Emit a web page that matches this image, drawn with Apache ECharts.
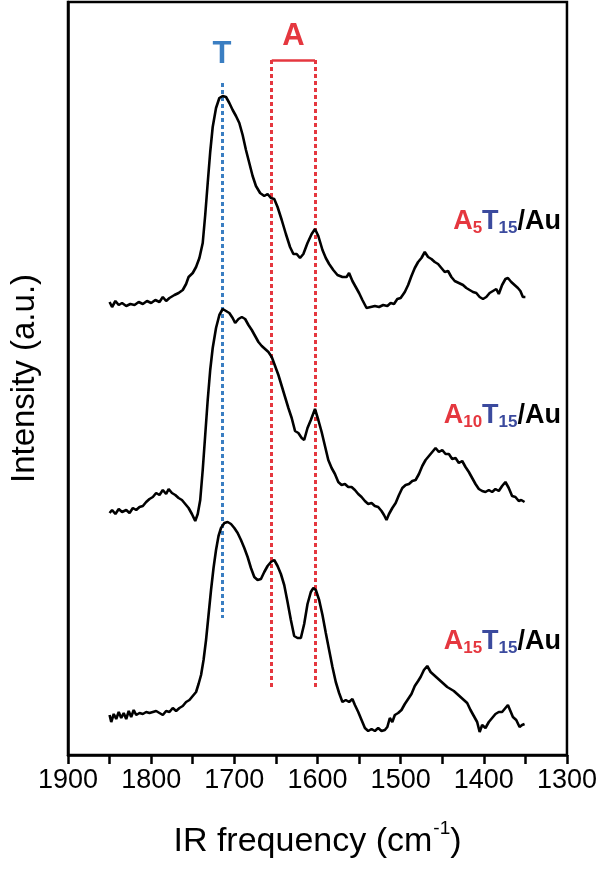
<!DOCTYPE html>
<html><head><meta charset="utf-8">
<script src="https://cdn.jsdelivr.net/npm/echarts@6/dist/echarts.min.js"></script>
<style>html,body{margin:0;padding:0;background:#fff}#c{width:600px;height:875px}</style>
</head><body><div id="c"></div>
<script>
// IR frequency (cm-1) and intensity (a.u.)
const freqA5 = [1850,1847,1843,1839,1835,1830,1825,1820,1815,1810,1805,1800,1795,1790,1786,1782,1778,1772,1767,1762,1758,1755,1750,1746,1742,1738,1735,1732,1729,1726,1722,1718,1714,1710,1706,1702,1698,1694,1690,1686,1682,1678,1674,1669,1664,1660,1656,1652,1648,1643,1638,1633,1629,1625,1621,1617,1612,1607,1603,1599,1594,1590,1586,1581,1576,1570,1565,1562,1558,1554,1550,1546,1541,1536,1531,1526,1521,1516,1512,1508,1504,1500,1495,1491,1487,1483,1479,1475,1471,1467,1463,1459,1455,1451,1447,1443,1439,1435,1430,1425,1421,1417,1413,1409,1405,1401,1397,1393,1389,1385,1382,1378,1374,1371,1367,1363,1359,1356,1353,1350];
const intA5 = [4.53,4.48,4.54,4.50,4.52,4.49,4.51,4.50,4.53,4.51,4.54,4.52,4.55,4.53,4.58,4.54,4.57,4.60,4.62,4.65,4.71,4.78,4.82,4.88,4.97,5.12,5.40,5.72,6.03,6.28,6.47,6.57,6.59,6.58,6.52,6.45,6.39,6.32,6.20,6.05,5.92,5.79,5.69,5.62,5.59,5.61,5.57,5.56,5.48,5.35,5.21,5.08,5.01,5.01,4.97,5.01,5.12,5.21,5.26,5.19,5.05,4.97,4.91,4.85,4.80,4.78,4.78,4.82,4.74,4.68,4.62,4.55,4.47,4.48,4.49,4.48,4.50,4.49,4.52,4.51,4.56,4.57,4.63,4.70,4.79,4.87,4.93,4.97,5.03,4.98,4.96,4.93,4.91,4.87,4.83,4.84,4.78,4.74,4.72,4.70,4.67,4.65,4.63,4.62,4.58,4.56,4.58,4.62,4.64,4.66,4.61,4.70,4.76,4.77,4.73,4.70,4.67,4.64,4.58,4.58];

const freqA10 = [1850,1847,1843,1839,1835,1830,1826,1822,1818,1814,1810,1806,1802,1798,1794,1790,1786,1782,1779,1775,1771,1767,1763,1759,1755,1751,1747,1744,1741,1738,1735,1732,1729,1726,1722,1718,1714,1710,1706,1702,1699,1695,1691,1687,1683,1679,1675,1671,1667,1663,1659,1655,1651,1647,1643,1639,1635,1631,1627,1623,1619,1616,1612,1608,1603,1599,1595,1591,1587,1583,1579,1575,1571,1567,1563,1559,1555,1551,1547,1543,1539,1535,1531,1527,1523,1520,1517,1514,1510,1506,1502,1498,1494,1490,1486,1482,1478,1474,1470,1466,1462,1458,1454,1450,1446,1442,1438,1434,1430,1426,1422,1418,1414,1410,1406,1402,1398,1394,1390,1386,1382,1378,1374,1370,1366,1362,1358,1355,1351];
const intA10 = [2.42,2.45,2.41,2.46,2.43,2.45,2.42,2.47,2.45,2.48,2.49,2.53,2.56,2.58,2.62,2.60,2.65,2.61,2.66,2.62,2.60,2.57,2.55,2.51,2.47,2.41,2.34,2.41,2.55,2.85,3.20,3.55,3.85,4.07,4.27,4.40,4.46,4.44,4.42,4.37,4.32,4.36,4.38,4.36,4.30,4.25,4.19,4.13,4.09,4.06,4.03,3.98,3.89,3.80,3.69,3.58,3.47,3.37,3.24,3.22,3.17,3.15,3.27,3.35,3.46,3.35,3.23,3.09,2.95,2.87,2.81,2.73,2.70,2.71,2.68,2.68,2.65,2.61,2.58,2.54,2.51,2.52,2.49,2.48,2.44,2.40,2.35,2.41,2.47,2.52,2.60,2.67,2.70,2.71,2.74,2.75,2.81,2.89,2.95,2.99,3.03,3.07,3.03,3.05,3.01,3.01,2.96,2.97,2.92,2.94,2.88,2.83,2.77,2.71,2.66,2.64,2.63,2.65,2.63,2.66,2.64,2.69,2.73,2.67,2.59,2.58,2.54,2.55,2.53];

const freqA15 = [1850,1848,1845,1842,1839,1836,1833,1830,1827,1824,1821,1818,1814,1810,1806,1802,1798,1794,1790,1786,1782,1778,1774,1770,1766,1762,1758,1754,1750,1746,1743,1740,1737,1734,1731,1728,1725,1722,1719,1716,1712,1708,1704,1700,1696,1692,1688,1684,1680,1676,1672,1668,1664,1660,1656,1652,1648,1644,1640,1636,1632,1628,1624,1620,1616,1612,1608,1605,1602,1598,1594,1590,1586,1582,1578,1574,1570,1566,1562,1558,1555,1551,1547,1543,1539,1535,1531,1527,1523,1519,1516,1513,1510,1507,1503,1499,1495,1491,1487,1483,1479,1476,1472,1468,1464,1460,1456,1452,1448,1444,1440,1436,1432,1428,1424,1420,1416,1412,1408,1405,1402,1398,1394,1390,1386,1382,1378,1374,1371,1368,1365,1361,1357,1354,1351];
const intA15 = [0.40,0.33,0.41,0.36,0.43,0.37,0.42,0.36,0.44,0.38,0.45,0.40,0.42,0.41,0.43,0.42,0.43,0.44,0.42,0.40,0.44,0.43,0.47,0.44,0.47,0.49,0.53,0.55,0.59,0.63,0.71,0.80,0.95,1.15,1.40,1.65,1.87,2.05,2.19,2.27,2.32,2.33,2.31,2.27,2.22,2.15,2.07,1.98,1.87,1.78,1.75,1.76,1.83,1.89,1.93,1.95,1.89,1.81,1.70,1.53,1.35,1.19,1.17,1.17,1.31,1.51,1.63,1.67,1.65,1.55,1.40,1.22,1.05,0.88,0.73,0.62,0.53,0.55,0.53,0.56,0.50,0.43,0.35,0.27,0.24,0.26,0.24,0.27,0.24,0.25,0.28,0.37,0.33,0.40,0.42,0.45,0.51,0.56,0.61,0.69,0.74,0.78,0.85,0.89,0.83,0.80,0.77,0.74,0.71,0.68,0.66,0.64,0.61,0.58,0.55,0.52,0.45,0.39,0.33,0.23,0.30,0.27,0.33,0.37,0.41,0.43,0.43,0.47,0.50,0.44,0.38,0.35,0.28,0.30,0.31];

// band markers (cm-1) and their vertical extent (a.u.)
const bandT = 1715;
const bandsA = [1655, 1603];
const bandTRange = [1.37, 6.72];
const bandARange = [0.68, 6.95];
const xTicks = [1900, 1800, 1700, 1600, 1500, 1400, 1300];

const BLUE = '#3a7ec2', RED = '#e5373f', INDIGO = '#3b4a9e';
const zip = (a, b) => a.map((v, i) => [v, b[i]]);

const chart = echarts.init(document.getElementById('c'));
const labelRich = (sub) => ({
  text: `{a|A}{as|${sub}}{t|T}{ts|15}{k|/Au}`,
  rich: {
    a: {fontSize: 27, fontWeight: 'bold', fill: RED, fontFamily: 'Liberation Sans'},
    as: {fontSize: 17, fontWeight: 'bold', fill: RED, fontFamily: 'Liberation Sans', padding: [14, 0, 0, 0]},
    t: {fontSize: 27, fontWeight: 'bold', fill: INDIGO, fontFamily: 'Liberation Sans'},
    ts: {fontSize: 17, fontWeight: 'bold', fill: INDIGO, fontFamily: 'Liberation Sans', padding: [14, 0, 0, 0]},
    k: {fontSize: 27, fontWeight: 'bold', fill: '#000', fontFamily: 'Liberation Sans'}
  }
});

chart.setOption({
  animation: false,
  backgroundColor: '#fff',
  textStyle: {fontFamily: 'Liberation Sans'},
  grid: {left: 68, right: 33, top: 2, bottom: 120, show: true, borderColor: '#000', borderWidth: 2.5},
  xAxis: {
    type: 'value', min: 1300, max: 1900, inverse: true, interval: 50,
    name: '{a|IR frequency (cm}{s|-1}{a|)}', nameLocation: 'middle', nameGap: 64,
    nameTextStyle: {rich: {
      a: {fontSize: 34, color: '#000', fontFamily: 'Liberation Sans'},
      s: {fontSize: 19, color: '#000', fontFamily: 'Liberation Sans', padding: [0, 0, 26, 1]}
    }},
    axisLine: {lineStyle: {color: '#000', width: 2.5}},
    axisTick: {show: true, length: 9, lineStyle: {color: '#000', width: 2.5}},
    axisLabel: {fontSize: 27, color: '#000', margin: 12,
      formatter: v => xTicks.includes(v) ? String(v) : ''},
    splitLine: {show: false}
  },
  yAxis: {
    type: 'value', min: 0, max: 7.53,
    name: 'Intensity (a.u.)', nameLocation: 'middle', nameGap: 27,
    nameTextStyle: {fontSize: 33, color: '#000'},
    axisLine: {show: true, lineStyle: {color: '#000', width: 2.5}},
    axisTick: {show: false}, axisLabel: {show: false}, splitLine: {show: false}
  },
  series: [
    {type: 'line', name: 'A5T15/Au', data: zip(freqA5, intA5), showSymbol: false, symbol: 'none',
     lineStyle: {color: '#000', width: 2.6}, z: 5},
    {type: 'line', name: 'A10T15/Au', data: zip(freqA10, intA10), showSymbol: false, symbol: 'none',
     lineStyle: {color: '#000', width: 2.6}, z: 5},
    {type: 'line', name: 'A15T15/Au', data: zip(freqA15, intA15), showSymbol: false, symbol: 'none',
     lineStyle: {color: '#000', width: 2.6}, z: 5},
    {type: 'line', data: [], z: 3,
     markLine: {
       silent: true, symbol: 'none', label: {show: false},
       data: [
         [{coord: [bandT, bandTRange[1]], lineStyle: {color: BLUE, type: [4, 3], width: 3}},
          {coord: [bandT, bandTRange[0]]}],
         [{coord: [bandsA[0], bandARange[1]], lineStyle: {color: RED, type: [4, 3], width: 3}},
          {coord: [bandsA[0], bandARange[0]]}],
         [{coord: [bandsA[1], bandARange[1]], lineStyle: {color: RED, type: [4, 3], width: 3}},
          {coord: [bandsA[1], bandARange[0]]}],
         [{coord: [bandsA[0], bandARange[1]], lineStyle: {color: RED, type: 'solid', width: 2.5}},
          {coord: [bandsA[1], bandARange[1]]}]
       ]
     },
     markPoint: {
       silent: true, symbol: 'circle', symbolSize: 0,
       data: [
         {coord: [bandT, bandTRange[1]], label: {show: true, formatter: 'T', color: BLUE, fontSize: 31, fontWeight: 'bold', offset: [0, -29]}},
         {coord: [(bandsA[0] + bandsA[1]) / 2, bandARange[1]], label: {show: true, formatter: 'A', color: RED, fontSize: 31, fontWeight: 'bold', offset: [0, -24]}}
       ]
     }
    }
  ],
  graphic: [
    {type: 'text', right: 39, top: 208, style: labelRich('5')},
    {type: 'text', right: 39, top: 402, style: labelRich('10')},
    {type: 'text', right: 39, top: 628, style: labelRich('15')}
  ]
});
</script></body></html>
